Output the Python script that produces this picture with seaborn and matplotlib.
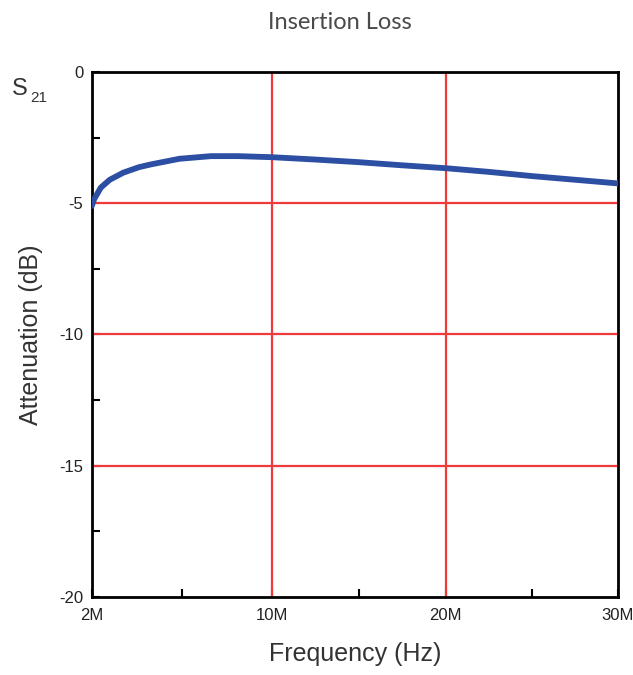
import numpy as np
import pandas as pd
import seaborn as sns
import matplotlib
matplotlib.use("Agg")
import matplotlib.pyplot as plt

# curva S21 (frequência em MHz, atenuação em dB)
freq_mhz = [2.0, 2.1, 2.4, 2.8, 3.4, 4.1, 4.6, 5.9, 7.3, 8.5, 10.0,
            12.5, 15.0, 17.5, 20.0, 22.5, 25.0, 27.5, 30.0]
atenuacao = [-5.1, -4.85, -4.4, -4.1, -3.83, -3.62, -3.52, -3.3, -3.2, -3.2, -3.24,
             -3.33, -3.43, -3.55, -3.66, -3.8, -3.96, -4.1, -4.24]

x_ticks = [2, 10, 20, 30]
x_tick_labels = ["2M", "10M", "20M", "30M"]
y_ticks = [0, -5, -10, -15, -20]

df = pd.DataFrame({"freq": freq_mhz, "att": atenuacao})

sns.set_style("white")

fig = plt.figure(figsize=(6.33, 6.75), dpi=100)
ax = fig.add_axes([0.145, 0.116, 0.831, 0.777])

# eixo x por trechos: 2M-10M, 10M-20M e 20M-30M quase com o mesmo comprimento
pos = [0, 180, 354, 526]
fwd = lambda v: np.interp(v, x_ticks, pos)
inv = lambda p: np.interp(p, pos, x_ticks)
ax.set_xscale("function", functions=(fwd, inv))

sns.lineplot(data=df, x="freq", y="att", ax=ax, color="#2c4fa3", linewidth=4.2, zorder=3)

for xv in [10, 20]:
    ax.axvline(xv, color="#f03a3a", linewidth=1.6, zorder=2)
for yv in [-5, -10, -15]:
    ax.axhline(yv, color="#f03a3a", linewidth=1.6, zorder=2)

ax.set_xlim(2, 30)
ax.set_ylim(-20, 0)
ax.set_xticks(x_ticks)
ax.set_xticklabels(x_tick_labels)
ax.set_xticks([6, 15, 25], minor=True)
ax.set_yticks(y_ticks)
ax.set_yticklabels([str(v) for v in y_ticks])
ax.set_yticks([-2.5, -7.5, -12.5, -17.5], minor=True)

for lab in ax.get_xticklabels() + ax.get_yticklabels():
    lab.set_family(["Liberation Sans Narrow", "Liberation Sans"])
    lab.set_fontsize(12)
    lab.set_color("#222222")

ax.tick_params(axis="both", which="both", direction="in", length=6, width=1.5,
               color="black", bottom=True, left=True)
ax.tick_params(axis="x", pad=8)
ax.tick_params(axis="y", pad=6)

for sp in ax.spines.values():
    sp.set_color("black")
    sp.set_linewidth(2)

ax.set_xlabel("Frequency (Hz)", fontsize=18, family=["Liberation Sans"], color="#333333", labelpad=14)
ax.set_ylabel("Attenuation (dB)", fontsize=18, family=["Liberation Sans"], color="#333333", labelpad=12)

fig.text(0.537, 0.966, "Insertion Loss", ha="center", va="center", fontsize=17,
         family=["Lato", "DejaVu Sans"], color="#4a4a4a")
fig.text(0.018, 0.868, "S", ha="left", va="center", fontsize=17,
         family=["Liberation Sans"], color="#333333")
fig.text(0.047, 0.855, "21", ha="left", va="center", fontsize=11,
         family=["Liberation Sans"], color="#333333")

fig.savefig("out.png", dpi=100)
